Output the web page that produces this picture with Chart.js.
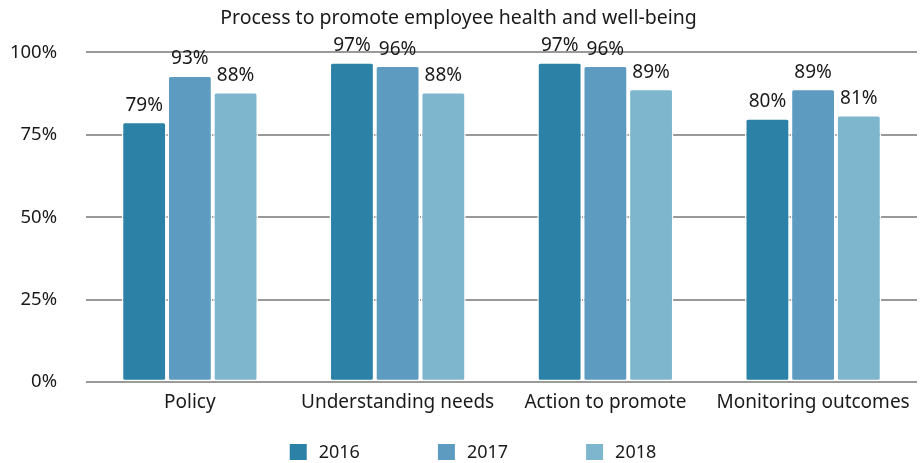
<!DOCTYPE html>
<html>
<head>
<meta charset="utf-8">
<script src="https://cdn.jsdelivr.net/npm/chart.js@4"></script>
<style>
html,body{margin:0;padding:0;background:#fff;}
#wrap{width:922px;height:463px;position:relative;}
</style>
</head>
<body>
<div id="wrap"><canvas id="chart"></canvas></div>
<script>
const categories = ["Policy","Understanding needs","Action to promote","Monitoring outcomes"];
const years = ["2016","2017","2018"];
const values2016 = [79,97,97,80];
const values2017 = [93,96,96,89];
const values2018 = [88,88,89,81];
const colors = ["#2b82a6","#5d9bc0","#7db6cd"];
const yTicks = [0,25,50,75,100];

const FONT = "'Noto Sans', sans-serif";

// value above each bar
const valueLabels = {
id:"valueLabels",
afterDatasetsDraw(chart){
const ctx = chart.ctx;
ctx.save();
ctx.font = "19px " + FONT;
ctx.fillStyle = "#1a1a1a";
ctx.textAlign = "center";
ctx.textBaseline = "alphabetic";
chart.data.datasets.forEach((ds,i)=>{
const meta = chart.getDatasetMeta(i);
meta.data.forEach((bar,j)=>{
ctx.fillText(ds.data[j] + "%", bar.x, bar.y - 11);
});
});
ctx.restore();
}
};

// legend with wide spacing between items (built-in padding also eats height)
const wideLegend = {
id:"wideLegend",
afterDraw(chart){
const ctx = chart.ctx;
const box = 17, gap = 12, spacing = 78;
ctx.save();
ctx.font = "18px " + FONT;
const widths = chart.data.datasets.map(ds=>box + gap + ctx.measureText(ds.label).width);
const total = widths.reduce((a,b)=>a+b,0) + spacing*(widths.length-1);
let x = chart.width/2 + 12 - total/2;
const y = 452;
chart.data.datasets.forEach((ds,i)=>{
ctx.fillStyle = ds.backgroundColor;
ctx.fillRect(x, y - 8, box, 16);
ctx.fillStyle = "#1a1a1a";
ctx.textAlign = "left";
ctx.textBaseline = "middle";
ctx.fillText(ds.label, x + box + gap, y + 1);
x += widths[i] + spacing;
});
ctx.restore();
}
};

new Chart(document.getElementById("chart"),{
type:"bar",
data:{
labels:categories,
datasets:[values2016,values2017,values2018].map((d,i)=>({
label:years[i],
data:d,
backgroundColor:colors[i],
borderColor:"#ffffff",
borderWidth:1.5,
borderRadius:3,
borderSkipped:false,
barPercentage:0.98,
categoryPercentage:0.66
}))
},
options:{
responsive:true,
maintainAspectRatio:false,
animation:false,
layout:{padding:{left:0,right:5,top:0,bottom:48}},
plugins:{
title:{
display:true,
text:"Process to promote employee health and well-being",
color:"#1a1a1a",
font:{family:FONT,size:19.5,weight:"normal"},
padding:{top:7,bottom:22}
},
legend:{display:false},
tooltip:{enabled:false}
},
scales:{
x:{
grid:{display:false},
border:{display:false},
ticks:{color:"#1a1a1a",font:{family:FONT,size:19},padding:1}
},
y:{
min:0,
max:100,
afterBuildTicks(axis){ axis.ticks = yTicks.map(v=>({value:v})); },
afterFit(axis){ axis.width = 86; },
grid:{color:"#999999",lineWidth:2,drawTicks:false},
border:{display:false},
ticks:{color:"#1a1a1a",font:{family:FONT,size:18.5},padding:29,callback:v=>v+"%"}
}
}
},
plugins:[valueLabels,wideLegend]
});
</script>
</body>
</html>
